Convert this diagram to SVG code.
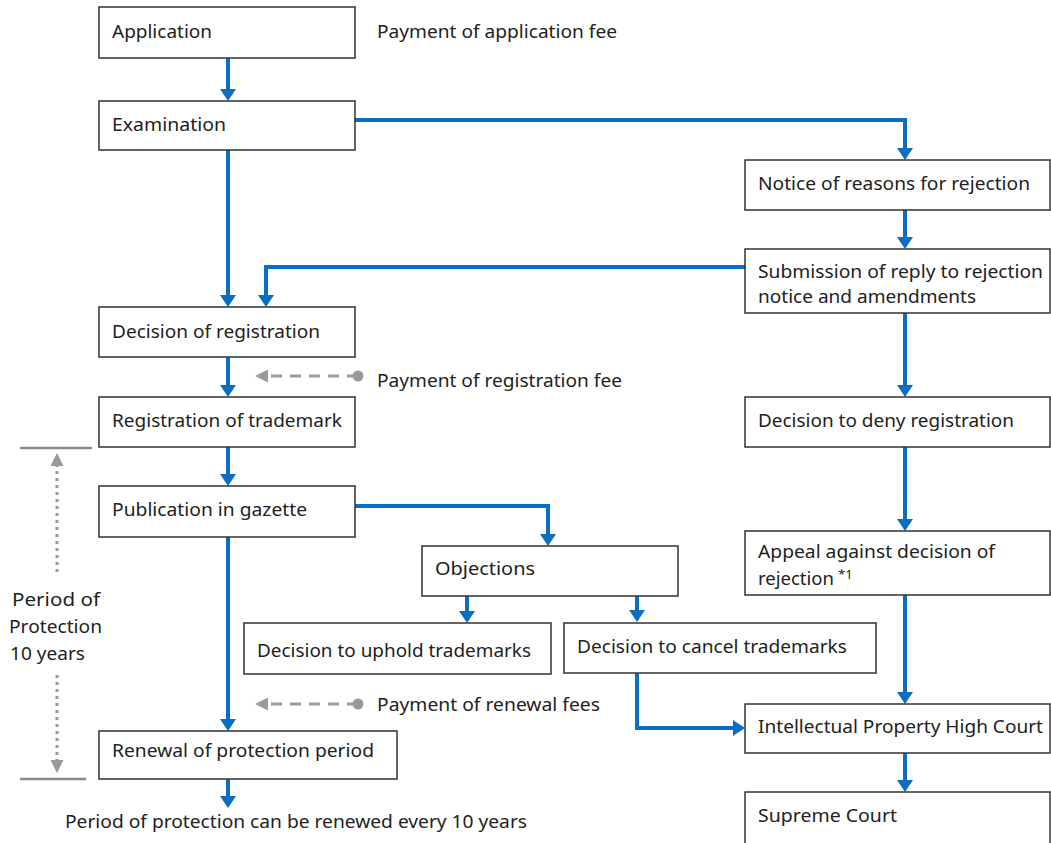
<svg xmlns="http://www.w3.org/2000/svg" width="1051" height="843" viewBox="0 0 1051 843">
<style>
.box{fill:#fff;stroke:#333;stroke-width:1.5}
.t{font-family:"Noto Sans","DejaVu Sans",sans-serif;font-size:17.5px;fill:#222}
.c{fill:none;stroke:#0a6fc2;stroke-width:4;marker-end:url(#ab)}
.g{fill:none;stroke:#9a9a9a;stroke-width:3;stroke-dasharray:11,8;marker-end:url(#ag)}
.d{fill:none;stroke:#9a9a9a;stroke-width:3;stroke-dasharray:3,4;marker-end:url(#ag)}
.h{stroke:#8a8a8a;stroke-width:2.5}
</style>
<defs>
<marker id="ab" markerUnits="userSpaceOnUse" markerWidth="12" markerHeight="16" refX="4" refY="8" orient="auto"><path d="M0,0 L12,8 L0,16 z" fill="#0a6fc2"/></marker>
<marker id="ag" markerUnits="userSpaceOnUse" markerWidth="13" markerHeight="13" refX="4" refY="6.5" orient="auto"><path d="M0,0 L13,6.5 L0,13 z" fill="#9a9a9a"/></marker>
</defs>
<rect width="1051" height="843" fill="#fff"/>
<g id="connectors">
<path class="c" d="M228,58 V93"/>
<path class="c" d="M228,150 V299"/>
<path class="c" d="M355,120 H905 V152"/>
<path class="c" d="M905,210 V241"/>
<path class="c" d="M745,267 H266 V299"/>
<path class="c" d="M905,313 V389"/>
<path class="c" d="M905,447 V523"/>
<path class="c" d="M905,595 V696"/>
<path class="c" d="M905,753 V784"/>
<path class="c" d="M228,357 V389"/>
<path class="c" d="M228,447 V478"/>
<path class="c" d="M228,537 V723"/>
<path class="c" d="M355,506 H548 V538"/>
<path class="c" d="M467,596 V615"/>
<path class="c" d="M637,596 V614"/>
<path class="c" d="M637,673 V728 H737"/>
<path class="c" d="M228,779 V800"/>
<path class="g" d="M358,376 H264"/>
<circle cx="358" cy="376" r="5.5" fill="#9a9a9a"/>
<path class="g" d="M358,704 H264"/>
<circle cx="358" cy="704" r="5.5" fill="#9a9a9a"/>
<path class="d" d="M57,572 V462"/>
<path class="d" d="M57,675 V764"/>
<line class="h" x1="20" y1="448" x2="92" y2="448"/>
<line class="h" x1="20" y1="779" x2="86" y2="779"/>
</g>
<g id="application"><rect class="box" x="99" y="7" width="256" height="51"/><text class="t" x="112" y="38" textLength="100" lengthAdjust="spacingAndGlyphs">Application</text></g>
<g id="fee-note"><text class="t" x="377" y="38" textLength="240" lengthAdjust="spacingAndGlyphs">Payment of application fee</text></g>
<g id="examination"><rect class="box" x="99" y="101" width="256" height="49"/><text class="t" x="112" y="131" textLength="114" lengthAdjust="spacingAndGlyphs">Examination</text></g>
<g id="notice"><rect class="box" x="745" y="160" width="305" height="50"/><text class="t" x="758" y="190" textLength="272" lengthAdjust="spacingAndGlyphs">Notice of reasons for rejection</text></g>
<g id="submission"><rect class="box" x="745" y="249" width="305" height="64"/><text class="t" x="758" y="278" textLength="285" lengthAdjust="spacingAndGlyphs">Submission of reply to rejection</text><text class="t" x="758" y="303" textLength="218" lengthAdjust="spacingAndGlyphs">notice and amendments</text></g>
<g id="decision-registration"><rect class="box" x="99" y="307" width="256" height="50"/><text class="t" x="112" y="338" textLength="208" lengthAdjust="spacingAndGlyphs">Decision of registration</text></g>
<g id="reg-fee-note"><text class="t" x="377" y="387" textLength="245" lengthAdjust="spacingAndGlyphs">Payment of registration fee</text></g>
<g id="registration"><rect class="box" x="99" y="397" width="256" height="50"/><text class="t" x="112" y="427" textLength="230" lengthAdjust="spacingAndGlyphs">Registration of trademark</text></g>
<g id="deny"><rect class="box" x="745" y="397" width="305" height="50"/><text class="t" x="758" y="427" textLength="256" lengthAdjust="spacingAndGlyphs">Decision to deny registration</text></g>
<g id="publication"><rect class="box" x="99" y="486" width="256" height="51"/><text class="t" x="112" y="516" textLength="195" lengthAdjust="spacingAndGlyphs">Publication in gazette</text></g>
<g id="objections"><rect class="box" x="422" y="546" width="256" height="50"/><text class="t" x="435" y="575" textLength="100" lengthAdjust="spacingAndGlyphs">Objections</text></g>
<g id="appeal"><rect class="box" x="745" y="531" width="305" height="64"/><text class="t" x="758" y="558" textLength="237" lengthAdjust="spacingAndGlyphs">Appeal against decision of</text><text class="t" x="758" y="585" textLength="76" lengthAdjust="spacingAndGlyphs">rejection</text><text class="t" x="838" y="579" style="font-size:13px">*1</text></g>
<g id="uphold"><rect class="box" x="244" y="623" width="307" height="51"/><text class="t" x="257" y="657" textLength="274" lengthAdjust="spacingAndGlyphs">Decision to uphold trademarks</text></g>
<g id="cancel"><rect class="box" x="564" y="623" width="312" height="50"/><text class="t" x="577" y="653" textLength="270" lengthAdjust="spacingAndGlyphs">Decision to cancel trademarks</text></g>
<g id="renewal-fee-note"><text class="t" x="377" y="711" textLength="223" lengthAdjust="spacingAndGlyphs">Payment of renewal fees</text></g>
<g id="ip-court"><rect class="box" x="745" y="704" width="305" height="49"/><text class="t" x="758" y="733" textLength="285" lengthAdjust="spacingAndGlyphs">Intellectual Property High Court</text></g>
<g id="renewal"><rect class="box" x="99" y="731" width="298" height="48"/><text class="t" x="112" y="757" textLength="262" lengthAdjust="spacingAndGlyphs">Renewal of protection period</text></g>
<g id="supreme"><rect class="box" x="745" y="792" width="305" height="60"/><text class="t" x="758" y="822" textLength="139" lengthAdjust="spacingAndGlyphs">Supreme Court</text></g>
<g id="renew-note"><text class="t" x="65" y="828" textLength="462" lengthAdjust="spacingAndGlyphs">Period of protection can be renewed every 10 years</text></g>
<g id="period-label"><text class="t" x="12" y="606" textLength="88" lengthAdjust="spacingAndGlyphs">Period of</text><text class="t" x="9" y="633" textLength="93" lengthAdjust="spacingAndGlyphs">Protection</text><text class="t" x="10" y="660" textLength="75" lengthAdjust="spacingAndGlyphs">10 years</text></g>
</svg>
